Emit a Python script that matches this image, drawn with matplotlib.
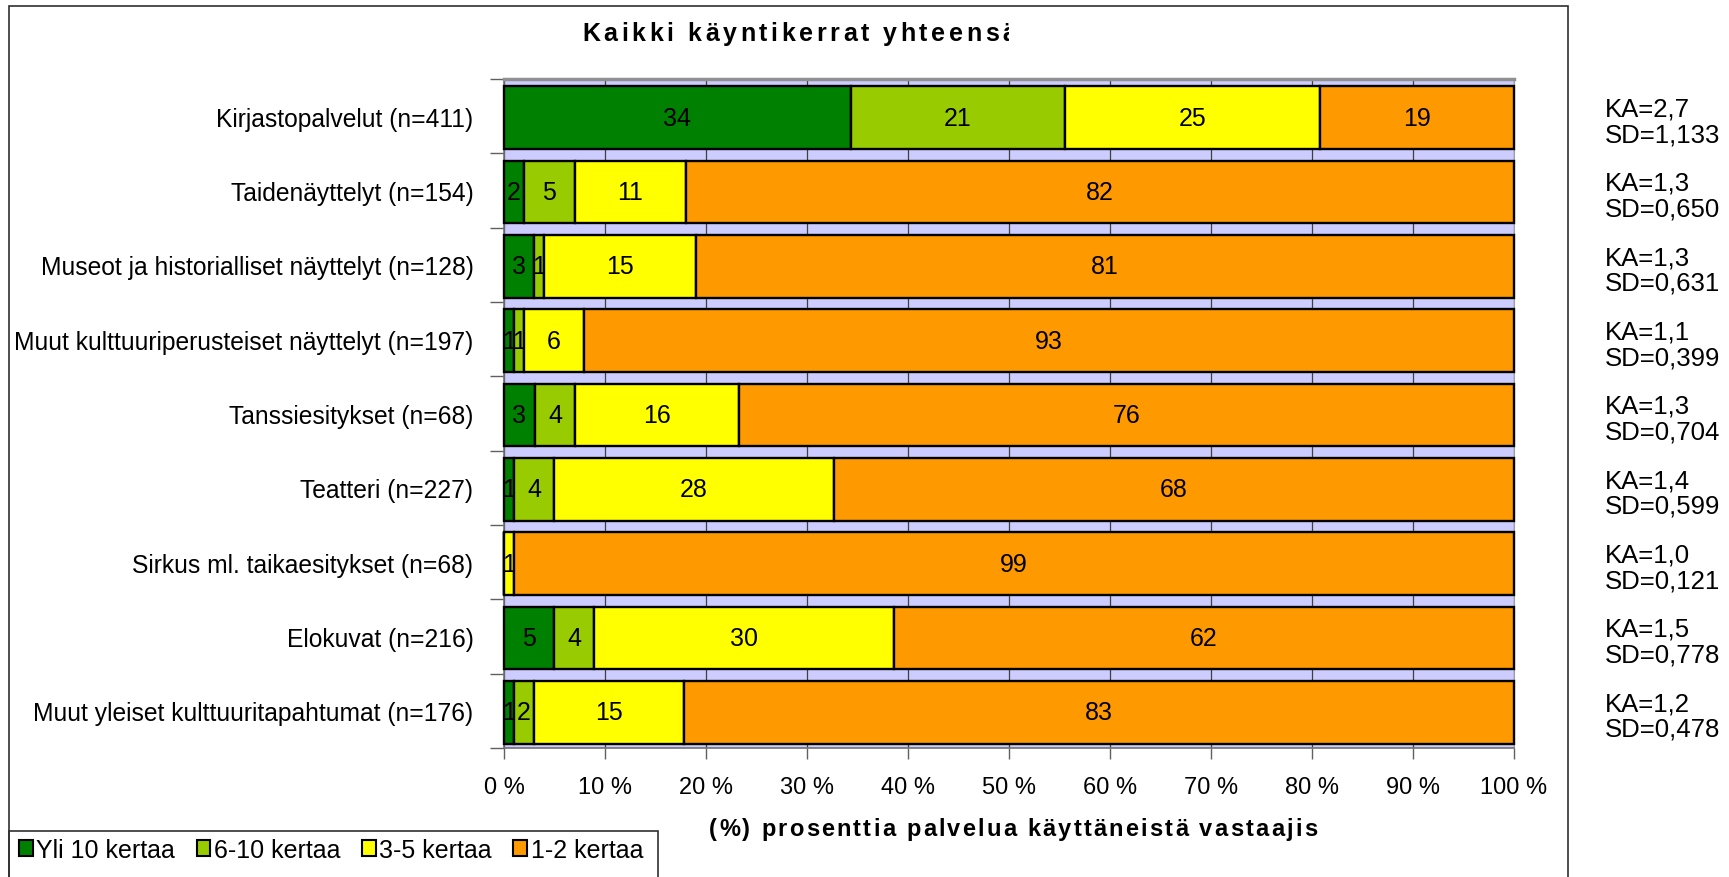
import numpy as np
import matplotlib
matplotlib.use("Agg")
import matplotlib.pyplot as plt
from matplotlib.patches import Patch, Rectangle
from matplotlib.transforms import Bbox, blended_transform_factory

plt.rcParams['font.family'] = ['Liberation Sans', 'DejaVu Sans']

# --- DATA ---
categories = [
    "Kirjastopalvelut (n=411)",
    "Taidenäyttelyt (n=154)",
    "Museot ja historialliset näyttelyt (n=128)",
    "Muut kulttuuriperusteiset näyttelyt (n=197)",
    "Tanssiesitykset (n=68)",
    "Teatteri (n=227)",
    "Sirkus ml. taikaesitykset (n=68)",
    "Elokuvat (n=216)",
    "Muut yleiset kulttuuritapahtumat (n=176)",
]
series_names = ["Yli 10 kertaa", "6-10 kertaa", "3-5 kertaa", "1-2 kertaa"]
yli_10 = [34, 2, 3, 1, 3, 1, 0, 5, 1]
kertaa_6_10 = [21, 5, 1, 1, 4, 4, 0, 4, 2]
kertaa_3_5 = [25, 11, 15, 6, 16, 28, 1, 30, 15]
kertaa_1_2 = [19, 82, 81, 93, 76, 68, 99, 62, 83]
ka_values = ["2,7", "1,3", "1,3", "1,1", "1,3", "1,4", "1,0", "1,5", "1,2"]
sd_values = ["1,133", "0,650", "0,631", "0,399", "0,704", "0,599", "0,121", "0,778", "0,478"]
x_ticks = list(range(0, 101, 10))

colors = ["#008000", "#99CC00", "#FFFF00", "#FF9900"]

# --- FIGURE ---
W, H = 1729, 878
fig = plt.figure(figsize=(W / 100, H / 100), dpi=100)
ax = fig.add_axes([504 / W, 1 - 749 / H, (1514 - 504) / W, (749 - 80) / H])
ax.set_facecolor("#CCCCFF")

series = [yli_10, kertaa_6_10, kertaa_3_5, kertaa_1_2]
totals = np.array([sum(v) for v in zip(*series)], dtype=float)
y = np.arange(len(categories))

# 100 % stacked bars (Excel normalises each row to 100 %)
left = np.zeros(len(categories))
for values, color in zip(series, colors):
    widths = np.array(values) / totals * 100
    bars = ax.barh(y + 0.02, widths, left=left, height=0.84, color=color,
                   edgecolor="black", linewidth=1.7, clip_on=False, zorder=3)
    ax.bar_label(bars, labels=[str(v) if v else "" for v in values],
                 label_type="center", fontsize=18)
    left += widths

ax.set_xlim(0, 100)
ax.set_ylim(len(categories) - 0.5, -0.5)

ax.set_xticks(x_ticks, [f"{v} %" for v in x_ticks])
ax.tick_params(axis="x", length=8, width=1, color="#606060", pad=12, labelsize=17)
ax.set_yticks(y, categories)
ax.tick_params(axis="y", which="major", length=0, pad=22, labelsize=17.7)
ax.set_yticks(np.arange(-0.5, len(categories), 1), minor=True)
ax.tick_params(axis="y", which="minor", length=10, width=1, color="#606060")

ax.xaxis.grid(True, color="#404040", linewidth=0.9)
ax.set_axisbelow(True)
for side in ["left", "bottom"]:
    ax.spines[side].set_color("#707070")
    ax.spines[side].set_linewidth(1.2)
ax.spines["top"].set_color("#909090")
ax.spines["top"].set_linewidth(2.5)
ax.spines["right"].set_color("#A0A0A0")

# KA / SD notes on the right
note_tr = blended_transform_factory(fig.transFigure, ax.transData)
for i, (ka, sd) in enumerate(zip(ka_values, sd_values)):
    ax.text(1605 / W, i + 0.07, f"KA={ka}\nSD={sd}", transform=note_tr,
            ha="left", va="center", fontsize=18.5, linespacing=1.1)


# --- LETTER-SPACED TEXT ---
def spaced_text(s, x_px, y_px, spacing, clip_px=None, **kw):
    renderer = fig.canvas.get_renderer()
    probe = fig.text(0, 0, "", **kw)

    def width(txt):
        probe.set_text(txt + "|")
        return probe.get_window_extent(renderer).width

    base = width("")
    for i, ch in enumerate(s):
        x = x_px + width(s[:i]) - base + i * spacing
        t = fig.text(x / W, 1 - y_px / H, ch, ha="left", va="baseline", **kw)
        if clip_px is not None:
            t.set_clip_box(Bbox.from_extents(0, 0, clip_px, H))
            t.set_clip_on(True)
    probe.remove()


# the title is cut off at the right in the original chart
spaced_text("Kaikki käyntikerrat yhteensä", 582, 41, 3.6, clip_px=1009,
            fontsize=18, fontweight="bold")
spaced_text("(%) prosenttia palvelua käyttäneistä vastaajis", 709, 836, 2.2,
            fontsize=17, fontweight="bold")

# --- LEGEND AND FRAMES ---
handles = [Patch(facecolor=c, edgecolor="black", linewidth=1.5) for c in colors]
fig.legend(handles, series_names, loc="center left", bbox_to_anchor=(19 / W, 1 - 851 / H),
           ncol=4, frameon=False, fontsize=18, handlelength=0.55, handleheight=0.6,
           handletextpad=0.15, columnspacing=0.85, borderpad=0, borderaxespad=0)

fig.add_artist(Rectangle((9 / W, -0.05), (1568 - 9) / W, 1 - 7 / H + 0.05,
                         transform=fig.transFigure, fill=False, edgecolor="#303030", linewidth=1.2))
fig.add_artist(Rectangle((9 / W, -0.05), (658 - 9) / W, 1 - 832 / H + 0.05,
                         transform=fig.transFigure, fill=False, edgecolor="#303030", linewidth=1.2))

fig.savefig("out.png", dpi=100)
